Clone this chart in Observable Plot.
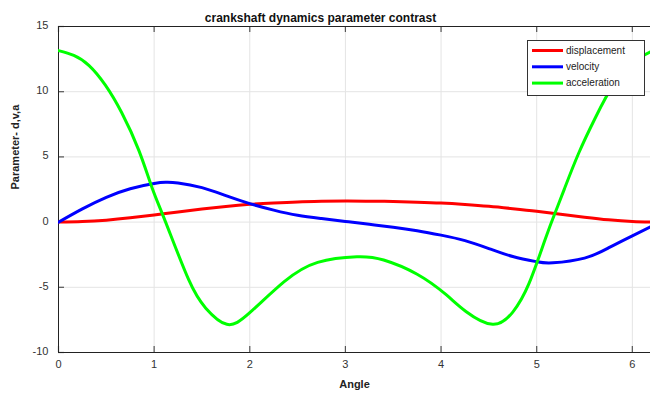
<!DOCTYPE html>
<html>
<head>
<meta charset="utf-8">
<script src="https://cdn.jsdelivr.net/npm/d3@7"></script>
<script src="https://cdn.jsdelivr.net/npm/@observablehq/plot@0.6"></script>
<style>
  html, body { margin: 0; padding: 0; background: #fff; }
  #chart svg { display: block; }
</style>
</head>
<body>
<div id="chart"></div>
<script>
// Crank angle (rad) and slider displacement
const dispAngle = [0, 0.25, 0.5, 0.75, 1.0, 1.25, 1.5, 1.75, 2.0, 2.25, 2.5, 2.75, 3.0,
  3.25, 3.5, 3.75, 4.0, 4.25, 4.5, 4.75, 5.0, 5.25, 5.5, 5.75, 6.0, 6.19];
const dispValue = [0, 0.04, 0.15, 0.33, 0.55, 0.78, 1.0, 1.2, 1.36, 1.47, 1.55, 1.59, 1.61,
  1.6, 1.58, 1.53, 1.46, 1.35, 1.21, 1.03, 0.83, 0.6, 0.38, 0.18, 0.04, 0.0];

// Slider velocity
const velAngle = [0, 0.25, 0.5, 0.75, 1.0, 1.12, 1.25, 1.5, 1.75, 2.0, 2.25, 2.5, 2.75, 3.0,
  3.25, 3.5, 3.75, 4.0, 4.25, 4.5, 4.75, 5.0, 5.17, 5.5, 5.75, 6.0, 6.19];
const velValue = [0, 1.02, 1.9, 2.56, 2.96, 3.05, 3.0, 2.64, 2.03, 1.42, 0.92, 0.52, 0.27, 0.05,
  -0.17, -0.39, -0.66, -1.0, -1.42, -2.03, -2.64, -3.04, -3.12, -2.76, -1.98, -1.05, -0.37];

// Slider acceleration
const accAngle = [0, 0.16, 0.32, 0.49, 0.66, 0.84, 0.98, 1.12, 1.36, 1.54, 1.76, 2.0,
  2.36, 2.71, 3.12, 3.4, 3.75, 4.05, 4.26, 4.54, 4.75, 4.92, 5.09, 5.2, 5.29, 5.44,
  5.62, 5.8, 6.0, 6.19];
const accValue = [13.15, 12.78, 12.0, 10.5, 8.4, 5.5, 2.6, 0, -4.4, -6.6, -7.84, -6.95,
  -4.57, -3.09, -2.66, -2.91, -4.0, -5.55, -6.85, -7.84, -6.9, -4.7, -1.3, 0.85, 2.55, 5.3,
  8.1, 10.5, 12.2, 13.05];

const xTicks = [0, 1, 2, 3, 4, 5, 6];
const yTicks = [-10, -5, 0, 5, 10, 15];

const series = [
  {name: "displacement", color: "#ff0000", angle: dispAngle, value: dispValue},
  {name: "velocity", color: "#0000ff", angle: velAngle, value: velValue},
  {name: "acceleration", color: "#00ff00", angle: accAngle, value: accValue}
];

const font = "'Liberation Sans', Arial, Helvetica, sans-serif";

const chart = Plot.plot({
  width: 650,
  height: 395,
  marginLeft: 58,
  marginRight: 0,
  marginTop: 26,
  marginBottom: 43,
  style: {fontFamily: font, background: "#fff", overflow: "visible"},
  x: {domain: [0, 6.19]},
  y: {domain: [-10, 15]},
  marks: [
    // grid
    Plot.ruleX(xTicks.slice(1), {x: d => d, stroke: "#e4e4e4", strokeWidth: 1}),
    Plot.ruleY(yTicks.slice(1, -1), {y: d => d, stroke: "#e4e4e4", strokeWidth: 1}),
    // inward tick marks on left, top and bottom edges
    Plot.tickX(xTicks, {x: d => d, insetBottom: 320, stroke: "#555", strokeWidth: 1.2}),
    Plot.tickX(xTicks, {x: d => d, insetTop: 320, stroke: "#555", strokeWidth: 1.2}),
    Plot.tickY(yTicks, {y: d => d, insetRight: 586, stroke: "#555", strokeWidth: 1.2}),
    // axis lines
    Plot.ruleY([15], {y: d => d, stroke: "#222", strokeWidth: 1}),
    Plot.ruleY([-10], {y: d => d, stroke: "#222", strokeWidth: 1}),
    Plot.ruleX([0], {x: d => d, stroke: "#222", strokeWidth: 1}),
    // tick labels (plain hyphen minus)
    Plot.axisX(xTicks, {anchor: "bottom", tickSize: 0, tickPadding: 8, label: null,
      tickFormat: d => String(d), fontSize: 11, fill: "#333"}),
    Plot.axisY(yTicks, {anchor: "left", tickSize: 0, tickPadding: 10, label: null,
      tickFormat: d => String(d), fontSize: 11, fill: "#333", dy: -1}),
    // curves
    ...series.map(s => Plot.line(s.value, {
      x: s.angle, y: s.value, stroke: s.color, strokeWidth: 3, curve: "natural", clip: true
    })),
    // titles
    Plot.text(["crankshaft dynamics parameter contrast"], {
      text: d => d, frameAnchor: "top", dx: -34, dy: -13,
      fontWeight: "bold", fontSize: 12, fill: "#111"
    }),
    Plot.text(["Angle"], {
      text: d => d, frameAnchor: "bottom", dy: 35, fontWeight: "bold", fontSize: 11, fill: "#222"
    }),
    Plot.text(["Parameter- d,v,a"], {
      text: d => d, frameAnchor: "left", dx: -43, rotate: -90,
      fontWeight: "bold", fontSize: 11, fill: "#222"
    })
  ]
});

// legend box in the upper right corner
const svg = d3.select(chart);
const lg = svg.append("g").attr("transform", "translate(527.5,40.5)");
lg.append("rect").attr("width", 117).attr("height", 55)
  .attr("fill", "#fff").attr("stroke", "#333").attr("stroke-width", 1);
series.forEach((s, i) => {
  const yy = 10 + i * 16.3;
  lg.append("line").attr("x1", 4.5).attr("x2", 35.5).attr("y1", yy).attr("y2", yy)
    .attr("stroke", s.color).attr("stroke-width", 3);
  lg.append("text").attr("x", 38.5).attr("y", yy).attr("dy", "0.32em")
    .attr("text-anchor", "start")
    .attr("font-size", 10).attr("font-family", font).attr("fill", "#222").text(s.name);
});

document.getElementById("chart").appendChild(chart);
</script>
</body>
</html>
